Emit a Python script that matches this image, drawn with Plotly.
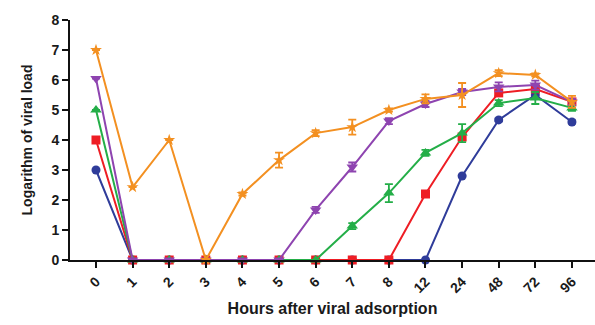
import plotly.graph_objects as go

hours = ["0", "1", "2", "3", "4", "5", "6", "7", "8", "12", "24", "48", "72", "96"]

blue_vals = [3.0, 0, 0, 0, 0, 0, 0, 0, 0, 0, 2.8, 4.67, 5.5, 4.6]
blue_err = [0, 0, 0, 0, 0, 0, 0, 0, 0, 0, 0, 0.05, 0.1, 0.05]

red_vals = [4.0, 0, 0, 0, 0, 0, 0, 0, 0, 2.2, 4.1, 5.57, 5.7, 5.27]
red_err = [0, 0, 0, 0, 0, 0, 0, 0, 0, 0, 0.1, 0.1, 0.1, 0.1]

green_vals = [5.0, 0, 0, 0, 0, 0, 0, 1.13, 2.23, 3.57, 4.23, 5.23, 5.4, 5.07]
green_err = [0, 0, 0, 0, 0, 0, 0, 0.1, 0.3, 0.1, 0.3, 0.1, 0.2, 0.1]

purple_vals = [6.05, 0, 0, 0, 0, 0, 1.67, 3.1, 4.63, 5.2, 5.6, 5.77, 5.83, 5.27]
purple_err = [0, 0, 0, 0, 0, 0, 0.1, 0.15, 0.1, 0.1, 0.1, 0.15, 0.15, 0.1]

orange_vals = [7.0, 2.43, 4.0, 0, 2.2, 3.33, 4.23, 4.43, 5.0, 5.37, 5.5, 6.23, 6.17, 5.27]
orange_err = [0, 0, 0, 0, 0.05, 0.25, 0.1, 0.25, 0.05, 0.15, 0.4, 0.1, 0.05, 0.2]

series = [
    ("blue", blue_vals, blue_err, "#2F3C9A", "circle", 9),
    ("red", red_vals, red_err, "#EE1D24", "square", 9),
    ("green", green_vals, green_err, "#24AE48", "triangle-up", 10),
    ("purple", purple_vals, purple_err, "#8E44B0", "triangle-down", 10),
    ("orange", orange_vals, orange_err, "#F39021", "star", 9),
]

xpos = list(range(len(hours)))

fig = go.Figure()
for name, vals, err, color, symbol, size in series:
    fig.add_trace(go.Scatter(
        x=xpos, y=vals, name=name, mode="lines+markers",
        line=dict(color=color, width=2),
        marker=dict(symbol=symbol, size=size, color=color),
        error_y=dict(type="data", array=err, visible=True, color=color,
                     thickness=1.8, width=4),
        cliponaxis=False,
    ))

font_family = "Liberation Sans, Arial, sans-serif"

fig.update_layout(
    width=595, height=325,
    margin=dict(l=70, r=0, t=20, b=65),
    paper_bgcolor="white", plot_bgcolor="white",
    showlegend=False,
    font=dict(family=font_family, color="#1a1a1a"),
    xaxis=dict(
        range=[-0.71, 13.63],
        tickmode="array", tickvals=xpos, ticktext=hours,
        tickangle=-45,
        tickfont=dict(size=14, family=font_family, weight="bold"),
        ticks="outside", ticklen=6, tickwidth=2, tickcolor="#111",
        showline=True, linecolor="#111", linewidth=2,
        showgrid=False, zeroline=False,
        title=dict(text="Hours after viral adsorption",
                   font=dict(size=16, family=font_family, weight="bold"),
                   standoff=8),
    ),
    yaxis=dict(
        range=[0, 8],
        tickmode="array", tickvals=list(range(9)),
        tickfont=dict(size=14, family=font_family, weight="bold"),
        ticks="outside", ticklen=6, tickwidth=2, tickcolor="#111",
        showline=True, linecolor="#111", linewidth=2,
        showgrid=False, zeroline=False,
        title=dict(text="Logarithm of viral load",
                   font=dict(size=14, family=font_family, weight="bold"),
                   standoff=16),
    ),
)

fig.write_html("out.html")
